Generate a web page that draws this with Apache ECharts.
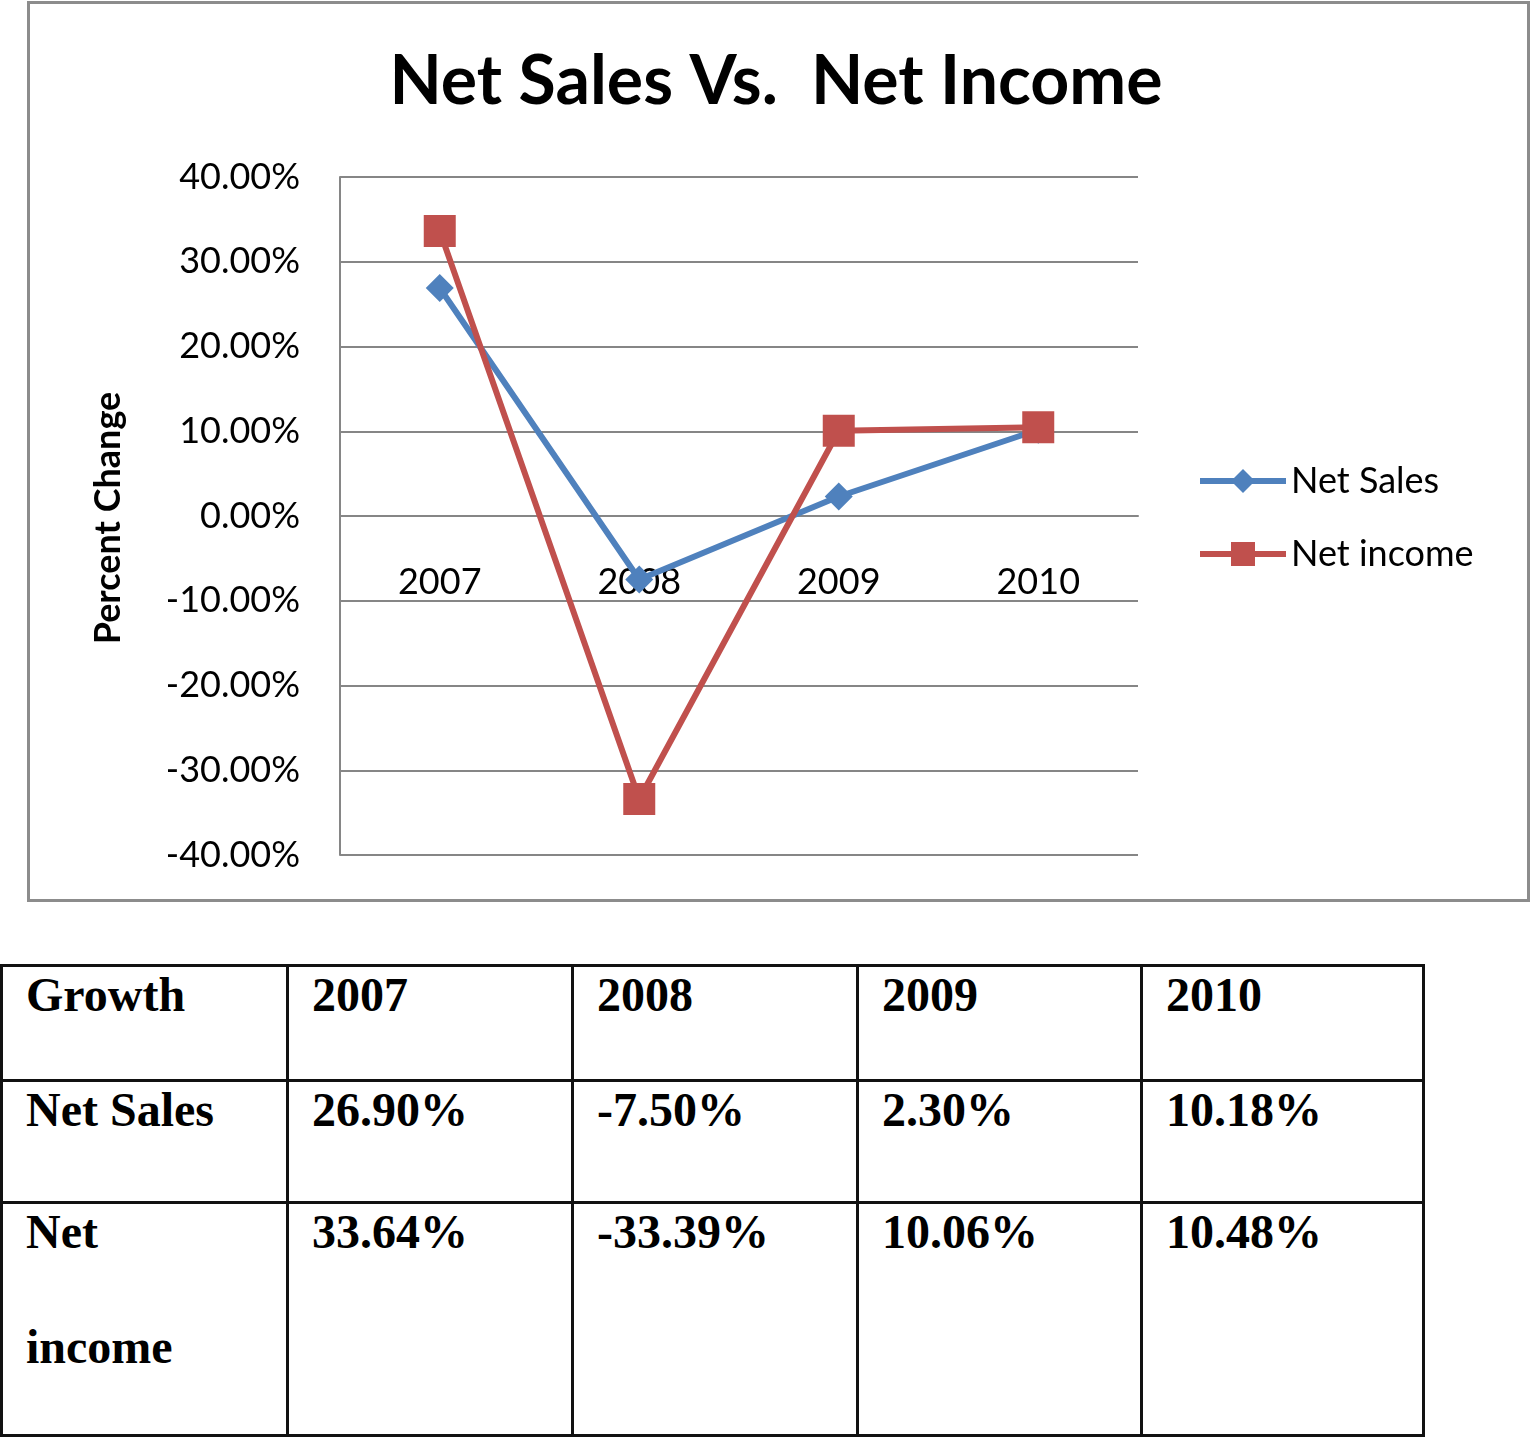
<!DOCTYPE html>
<html>
<head>
<meta charset="utf-8">
<script src="https://cdn.jsdelivr.net/npm/echarts@6/dist/echarts.min.js"></script>
<style>
  html, body { margin: 0; padding: 0; background: #fff; }
  #wrap { position: relative; width: 1531px; height: 1437px; overflow: hidden; }
  #chart { position: absolute; left: 0; top: 0; width: 1531px; height: 905px; }
  #tbl { position: absolute; left: 0; top: 964px; border-collapse: collapse; table-layout: fixed;
         font-family: "Liberation Serif", "Times New Roman", serif; font-weight: bold; font-size: 48px; color: #000; }
  #tbl td { border: 3px solid #111; vertical-align: top; padding: 0 40px 0 23px; }
  #tbl td div { line-height: 115px; margin-top: -30px; }
</style>
</head>
<body>
<div id="wrap">
  <div id="chart"></div>
  <table id="tbl"></table>
</div>
<script>
// ---- data ----
const categories = ['2007', '2008', '2009', '2010'];
const netSales = [26.90, -7.50, 2.30, 10.18];
const netIncome = [33.64, -33.39, 10.06, 10.48];
const seriesNames = ['Net Sales', 'Net income'];
const tableHeader = 'Growth';
const yMin = -40, yMax = 40, yStep = 10;
const chartTitle = 'Net Sales Vs.  Net Income';
const yAxisTitle = 'Percent Change';

// ---- chart ----
const chart = echarts.init(document.getElementById('chart'), null, { renderer: 'canvas' });
const gray = '#868686';
const fontFam = 'Lato, "Open Sans", sans-serif';
chart.setOption({
  animation: false,
  backgroundColor: '#fff',
  graphic: [
    { type: 'rect', shape: { x: 28.5, y: 2.5, width: 1500, height: 898 },
      style: { fill: 'none', stroke: '#8c8c8c', lineWidth: 3 }, z: 100 },
    { type: 'text', x: 776, y: 82,
      style: { text: chartTitle, font: 'bold 68px ' + fontFam, fill: '#000',
               textAlign: 'center', textVerticalAlign: 'middle' } },
    { type: 'text', x: 108, y: 518, rotation: Math.PI / 2,
      style: { text: yAxisTitle, font: 'bold 36px ' + fontFam, fill: '#000',
               textAlign: 'center', textVerticalAlign: 'middle' } }
  ],
  grid: { left: 340, right: 393, top: 177, height: 678, containLabel: false, outerBoundsMode: 'none' },
  legend: {
    orient: 'vertical', left: 1192, top: 455,
    itemWidth: 86, itemHeight: 30, itemGap: 31,
    lineStyle: { width: 6 },
    textStyle: { fontFamily: fontFam, fontSize: 36, color: '#000', lineHeight: 42 },
    data: seriesNames
  },
  xAxis: {
    type: 'category', data: categories, boundaryGap: true, position: 'bottom', offset: 0,
    axisLine: { show: true, onZero: false, lineStyle: { color: gray, width: 2 } },
    axisTick: { show: false },
    axisLabel: { margin: 48, fontFamily: fontFam, fontSize: 36, color: '#000' },
    splitLine: { show: false }
  },
  yAxis: {
    type: 'value', min: yMin, max: yMax, interval: yStep,
    axisLine: { show: true, onZero: false, lineStyle: { color: gray, width: 2 } },
    axisTick: { show: false },
    axisLabel: { margin: 40, fontFamily: fontFam, fontSize: 36, color: '#000',
                 formatter: v => v.toFixed(2) + '%' },
    splitLine: { show: true, lineStyle: { color: gray, width: 2 } }
  },
  series: [
    { name: seriesNames[0], type: 'line', data: netSales,
      symbol: 'diamond', symbolSize: 28,
      lineStyle: { color: '#4F81BD', width: 6 },
      itemStyle: { color: '#4F81BD' } },
    { name: seriesNames[1], type: 'line', data: netIncome,
      symbol: 'rect', symbolSize: 32,
      lineStyle: { color: '#C0504D', width: 6 },
      itemStyle: { color: '#C0504D' } }
  ]
});
// place the category axis on the zero line (using the value axis' own scale)
const zeroPx = chart.convertToPixel({ yAxisIndex: 0 }, 0);
const bottomPx = chart.convertToPixel({ yAxisIndex: 0 }, yMin);
chart.setOption({ xAxis: { offset: -(bottomPx - zeroPx) } });

// ---- table ----
const colWidths = [286, 285, 285, 284, 282];
const rowHeights = [115, 122, 233];
const fmt = v => v.toFixed(2) + '%';
const rows = [
  [tableHeader].concat(categories),
  [seriesNames[0]].concat(netSales.map(fmt)),
  [seriesNames[1]].concat(netIncome.map(fmt))
];
const tbl = document.getElementById('tbl');
const cg = document.createElement('colgroup');
colWidths.forEach(w => { const c = document.createElement('col'); c.style.width = w + 'px'; cg.appendChild(c); });
tbl.appendChild(cg);
rows.forEach((r, i) => {
  const tr = document.createElement('tr');
  tr.style.height = rowHeights[i] + 'px';
  r.forEach(txt => {
    const td = document.createElement('td');
    const d = document.createElement('div');
    d.textContent = txt;
    td.appendChild(d);
    tr.appendChild(td);
  });
  tbl.appendChild(tr);
});
</script>
</body>
</html>
